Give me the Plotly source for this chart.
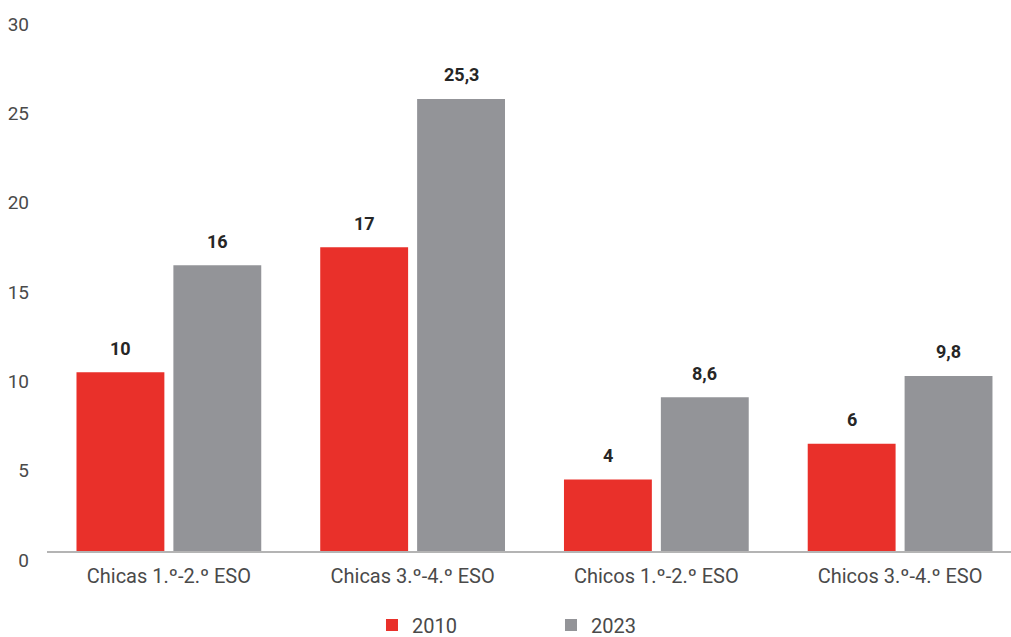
import plotly.graph_objects as go

categories = ["Chicas 1.º-2.º ESO", "Chicas 3.º-4.º ESO", "Chicos 1.º-2.º ESO", "Chicos 3.º-4.º ESO"]
values_2010 = [10, 17, 4, 6]
values_2023 = [16, 25.3, 8.6, 9.8]
series_names = ["2010", "2023"]
y_ticks = [0, 5, 10, 15, 20, 25, 30]

RED = "#e9302a"
GREY = "#939498"
FONT = "Roboto"


def fmt(v):
    return f"{v:g}".replace(".", ",")


fig = go.Figure()
series = [(series_names[0], values_2010, RED), (series_names[1], values_2023, GREY)]
for name, vals, col in series:
    fig.add_trace(go.Bar(
        name=name, x=categories, y=vals, marker_color=col, marker_line_width=0,
        offsetgroup=name,
    ))

# value labels above each bar, placed at the bar's own category/value
bar_slot = (1 - 0.205) / 2
for i, (name, vals, col) in enumerate(series):
    offset = (i - 0.5) * bar_slot
    for k, v in enumerate(vals):
        fig.add_annotation(
            x=k + offset, y=v, xref="x", yref="y", text=fmt(v), showarrow=False,
            yanchor="middle", yshift=24,
            font=dict(family=FONT, size=18, color="#262626", weight="bold"),
        )

fig.update_layout(
    width=1011, height=637,
    margin=dict(l=47, r=0, t=15, b=86),
    paper_bgcolor="white", plot_bgcolor="white",
    barmode="group", bargap=0.205, bargroupgap=0.093,
    font=dict(family=FONT, size=18, color="#4a4a4a"),
    showlegend=True,
    legend=dict(orientation="h", x=0.545, xref="container", xanchor="center",
                y=0.019, yref="container", yanchor="middle",
                entrywidth=134, font=dict(size=20, color="#4a4a4a")),
)
fig.update_xaxes(type="category", range=[-0.5, 3.455], showline=True, linecolor="#b4b4b4",
                 linewidth=2, ticks="", showgrid=False, ticklabelstandoff=6,
                 tickfont=dict(size=20, color="#4a4a4a"))
fig.update_yaxes(range=[0, 30], tickvals=y_ticks, showgrid=False, zeroline=False,
                 showline=False, ticks="", ticklabelshift=9, ticklabelstandoff=17,
                 tickfont=dict(size=19, color="#4a4a4a"))

fig.write_html("out.html")
